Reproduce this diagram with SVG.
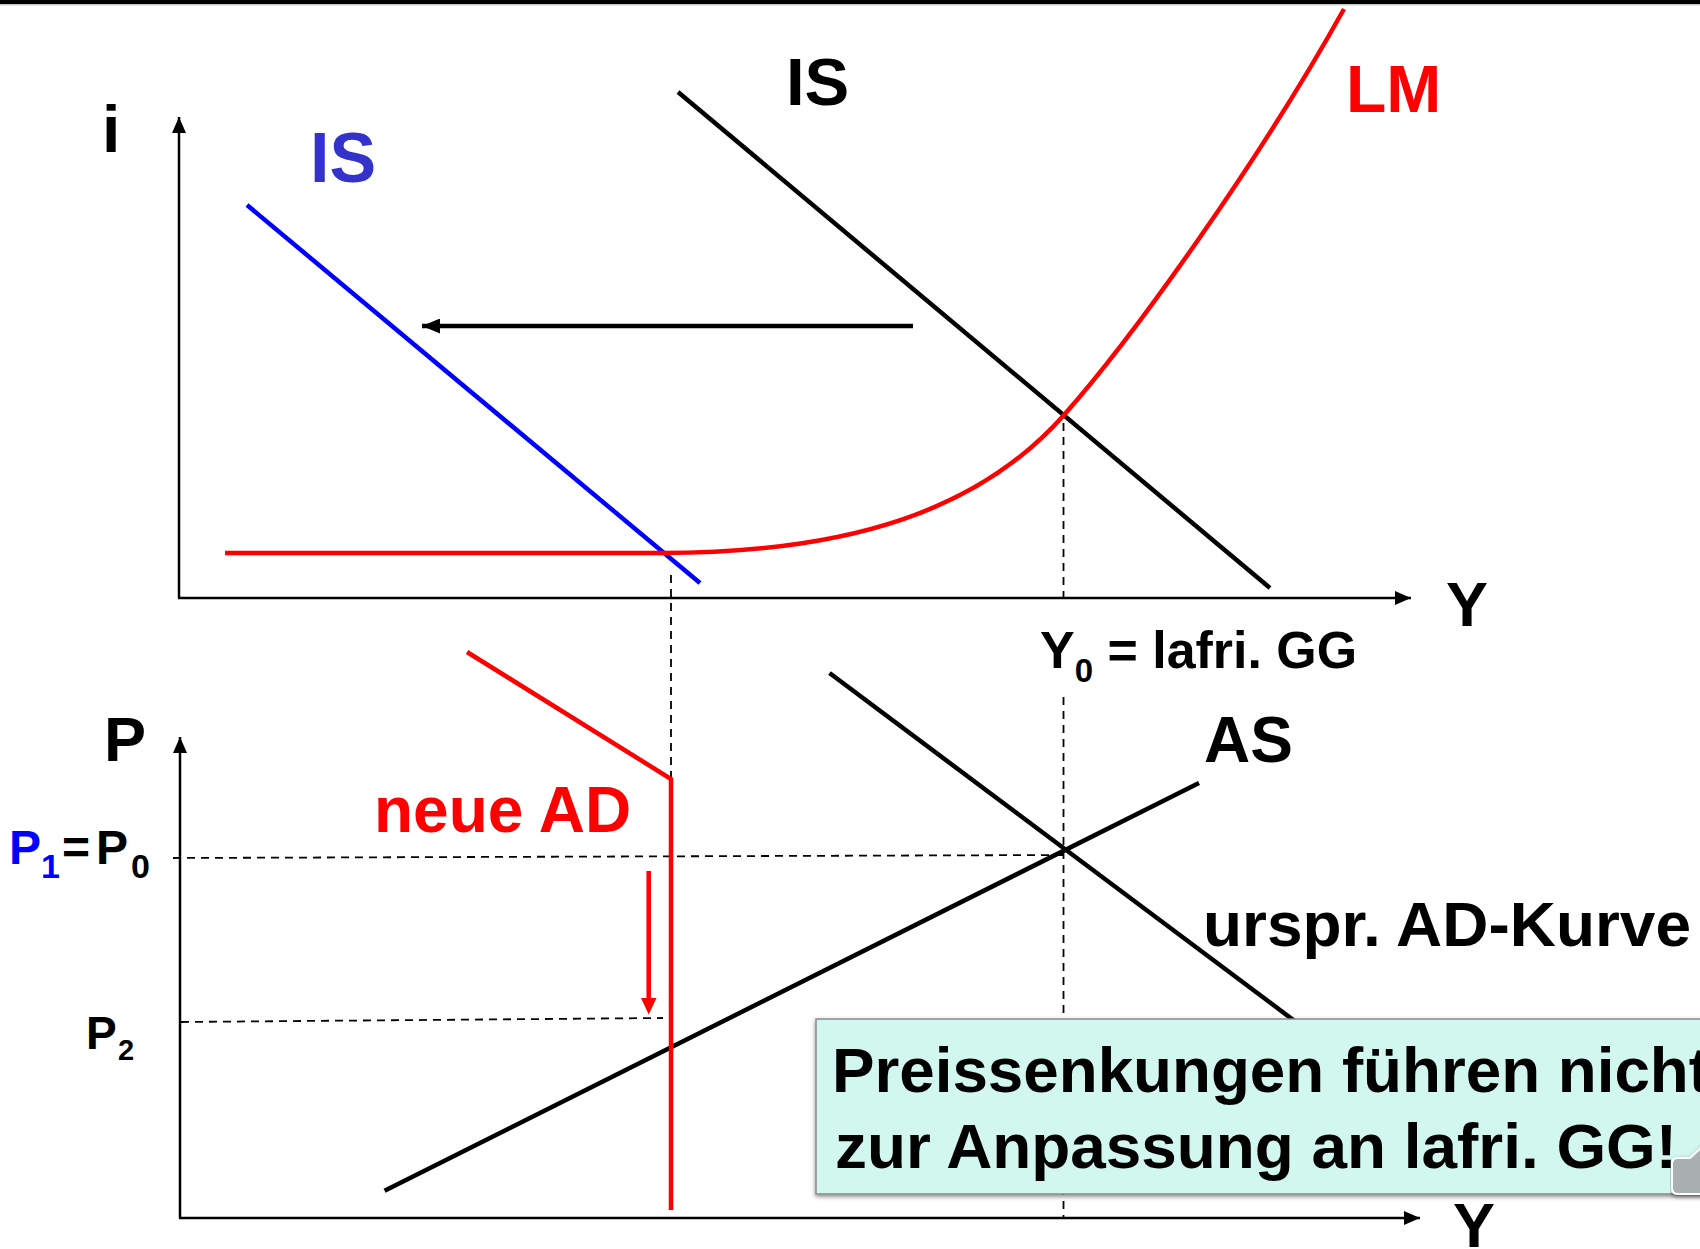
<svg xmlns="http://www.w3.org/2000/svg" width="1700" height="1249" viewBox="0 0 1700 1249">
<defs>
<style>
text{font-family:"Liberation Sans",Arial,sans-serif;font-weight:bold}
.ax{stroke:#000;stroke-width:2.5;fill:none}
.dash{stroke:#000;stroke-width:1.8;stroke-dasharray:8 6;fill:none}
.blk{stroke:#000;stroke-width:4.5;fill:none}
.red{stroke:#FF0000;stroke-width:4.5;fill:none}
.blue{stroke:#0000FF;stroke-width:4.5;fill:none}
</style>
<marker id="ahAx" viewBox="0 0 10 10" refX="10" refY="5" markerWidth="16" markerHeight="14" markerUnits="userSpaceOnUse" orient="auto" preserveAspectRatio="none"><path d="M0,0 L10,5 L0,10 z" fill="#000"/></marker>
<marker id="ahB" viewBox="0 0 10 10" refX="10" refY="5" markerWidth="18" markerHeight="15" markerUnits="userSpaceOnUse" orient="auto" preserveAspectRatio="none"><path d="M0,0 L10,5 L0,10 z" fill="#000"/></marker>
<filter id="sh" x="-5%" y="-5%" width="110%" height="120%"><feDropShadow dx="0" dy="2" stdDeviation="2" flood-color="#000" flood-opacity="0.45"/></filter>
</defs>
<rect width="1700" height="1249" fill="#fff"/>
<rect x="0" y="0" width="1700" height="4" fill="#000"/>
<line x1="0" y1="4.8" x2="1700" y2="4.8" stroke="#b0b0b0" stroke-width="1"/>

<g id="connectors">
<line class="ax" x1="179" y1="598" x2="179" y2="117" marker-end="url(#ahAx)"/>
<line class="ax" x1="178" y1="598" x2="1411" y2="598" marker-end="url(#ahAx)"/>
<line class="ax" x1="180" y1="1218" x2="180" y2="737" marker-end="url(#ahAx)"/>
<line class="ax" x1="179" y1="1218" x2="1420" y2="1218" marker-end="url(#ahAx)"/>
<line class="dash" x1="1063.5" y1="423" x2="1063.5" y2="597"/>
<line class="dash" x1="1063.5" y1="697" x2="1063.5" y2="1217"/>
<line class="dash" x1="671" y1="575" x2="671" y2="780"/>
<line class="dash" x1="173" y1="858" x2="1064" y2="855"/>
<line class="dash" x1="181" y1="1022" x2="663" y2="1018"/>
<line class="blue" x1="247" y1="205" x2="700" y2="583"/>
<line class="blk" x1="678" y1="92" x2="1270" y2="588"/>
<path class="red" d="M225,553 L661,553 C850,553 980,510 1064,415 C1134,336 1260,160 1344,9"/>
<line class="blk" stroke-width="4" x1="913" y1="326" x2="422" y2="326" marker-end="url(#ahB)"/>
<line class="blk" x1="829.5" y1="673" x2="1300" y2="1025"/>
<line class="blk" x1="384.6" y1="1190.7" x2="1199" y2="783"/>
<path class="red" d="M467,652 L671,779 L671,1210"/>
<line class="red" x1="648.7" y1="871" x2="648.7" y2="1000"/>
<path d="M641,998 L656.5,998 L648.7,1014.5 z" fill="#FF0000"/>
</g>

<g id="label-i"><text x="102" y="152" font-size="66">i</text></g>
<g id="label-IS-new"><text x="310" y="182" font-size="70" fill="#3333CC">IS</text></g>
<g id="label-IS"><text x="786" y="105" font-size="67">IS</text></g>
<g id="label-LM"><text x="1346" y="112" font-size="66" fill="#FF0000">LM</text></g>
<g id="label-Y-top"><text x="1446" y="626" font-size="63">Y</text></g>
<g id="label-Y0"><text x="1040" y="668" font-size="52">Y<tspan font-size="33" dy="14">0</tspan><tspan dy="-14" textLength="264" lengthAdjust="spacingAndGlyphs"> = lafri. GG</tspan></text></g>
<g id="label-P"><text x="104" y="761" font-size="63">P</text></g>
<g id="label-P1P0"><text y="864" font-size="48"><tspan x="9" fill="#0000FF">P</tspan><tspan x="41" font-size="34" dy="14" fill="#0000FF">1</tspan><tspan x="62" dy="-14">=</tspan><tspan x="96">P</tspan><tspan x="131" font-size="34" dy="14">0</tspan></text></g>
<g id="label-P2"><text y="1049" font-size="46"><tspan x="86">P</tspan><tspan x="118" font-size="29" dy="11">2</tspan></text></g>
<g id="label-neueAD"><text x="374" y="832" font-size="64" fill="#FF0000">neue AD</text></g>
<g id="label-AS"><text x="1204" y="762" font-size="64">AS</text></g>
<g id="label-ursprAD"><text x="1203" y="946" font-size="63" textLength="488" lengthAdjust="spacingAndGlyphs">urspr. AD-Kurve</text></g>
<g id="label-Y-bottom"><text x="1453" y="1247" font-size="63">Y</text></g>

<g id="note-box">
<rect x="816" y="1019" width="900" height="175" fill="#D2F7EF" stroke="#8a8a8a" stroke-width="1.5" filter="url(#sh)"/>
<text x="832" y="1092" font-size="63" textLength="878" lengthAdjust="spacingAndGlyphs">Preissenkungen führen nicht</text>
<text x="835" y="1168" font-size="63" textLength="842" lengthAdjust="spacingAndGlyphs">zur Anpassung an lafri. GG!</text>
</g>
<g id="callout-fragment">
<path d="M1678,1158 L1690,1158 L1703,1146 L1703,1194 L1678,1194 Q1672,1194 1672,1188 L1672,1164 Q1672,1158 1678,1158 z" fill="#aab0b0" stroke="#ffffff" stroke-width="2" filter="url(#sh)"/>
</g>
</svg>
